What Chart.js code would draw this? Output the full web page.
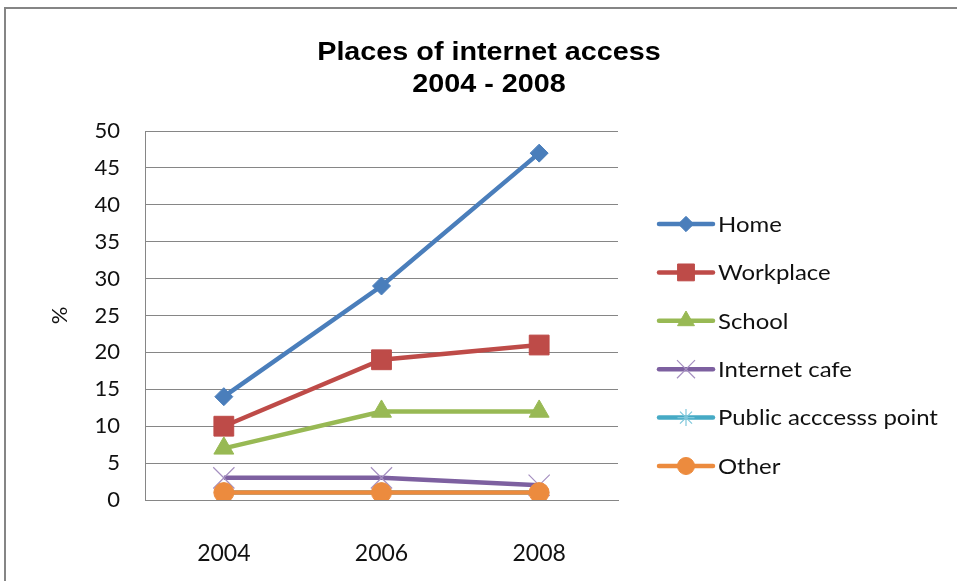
<!DOCTYPE html>
<html>
<head>
<meta charset="utf-8">
<script src="https://cdn.jsdelivr.net/npm/chart.js@4.4.1/dist/chart.umd.min.js"></script>
<style>
  html,body{margin:0;padding:0;background:#fff;overflow:hidden;}
  #frame{position:absolute;left:4px;top:7px;width:1200px;height:900px;border-left:2px solid #858585;border-top:2px solid #858585;}
  #chart{position:absolute;left:0;top:0;}
</style>
</head>
<body>
<div id="frame"></div>
<canvas id="chart" width="957" height="581"></canvas>
<script>
// survey years and share of users (%) by place of access
const years=["2004","2006","2008"];
const home=[14,29,47];
const workplace=[10,19,21];
const school=[7,12,12];
const internetCafe=[3,3,2];
const publicPoint=[1,1,1];
const other=[1,1,1];
const seriesNames=["Home","Workplace","School","Internet cafe","Public acccesss point","Other"];
const titleLines=["Places of internet access","2004 - 2008"];

const colors=["#4A7EBB","#BE4B48","#98B954","#7D60A0","#46AAC5","#EC8B3E"];
const styles=[
  {pointStyle:"rectRot",radius:9,bw:1},
  {pointStyle:"rect",radius:14,bw:1},
  {pointStyle:"triangle",radius:11.5,bw:1},
  {pointStyle:"crossRot",radius:15,bw:1.2},
  {pointStyle:"star",radius:10,bw:1.2},
  {pointStyle:"circle",radius:10,bw:1}
];
const values=[home,workplace,school,internetCafe,publicPoint,other];

const textFont='Lato, "Open Sans", sans-serif';

const datasets=values.map((v,i)=>({
  label:seriesNames[i],
  data:v,
  borderColor:colors[i],
  backgroundColor:colors[i],
  borderWidth:4.5,
  tension:0,
  pointStyle:styles[i].pointStyle,
  pointRadius:styles[i].radius,
  pointBorderWidth:styles[i].bw,
  pointBorderColor:i==3?"#A58FC0":i==4?"#7FC7DB":colors[i],
  pointBackgroundColor:colors[i],
  // later series sit on top, as in the spreadsheet
  order:values.length-i
}));

// two-line bold heading, slightly widened
const titlePlugin={
  id:"heading",
  afterDraw(chart){
    const ctx=chart.ctx;
    ctx.save();
    ctx.fillStyle="#000";
    ctx.font='bold 25px "Liberation Sans", Arial, sans-serif';
    ctx.textAlign="center";
    ctx.textBaseline="alphabetic";
    titleLines.forEach((t,i)=>{
      ctx.save();
      ctx.translate(489,60+i*32);
      ctx.scale(1.15,1);
      ctx.fillText(t,0,0);
      ctx.restore();
    });
    ctx.restore();
  }
};

// legend on the right: short line with the series marker in the middle
const legendPlugin={
  id:"sideLegend",
  afterDraw(chart){
    const ctx=chart.ctx;
    ctx.save();
    seriesNames.forEach((name,i)=>{
      const y=224+i*48.4;
      ctx.strokeStyle=colors[i];
      ctx.lineWidth=4.5;
      ctx.lineCap="round";
      ctx.beginPath();
      ctx.moveTo(659,y);
      ctx.lineTo(713,y);
      ctx.stroke();
      ctx.lineCap="butt";
      ctx.fillStyle=colors[i];
      ctx.strokeStyle=datasets[i].pointBorderColor;
      ctx.lineWidth=styles[i].bw;
      Chart.helpers.drawPoint(ctx,{pointStyle:styles[i].pointStyle,radius:styles[i].radius*0.85,borderWidth:styles[i].bw,rotation:0},686,y);
      ctx.save();
      ctx.translate(718,y+1);
      ctx.scale(1.14,1);
      ctx.fillStyle="#111";
      ctx.font="21px "+textFont;
      ctx.textAlign="left";
      ctx.textBaseline="middle";
      ctx.fillText(name,0,0);
      ctx.restore();
    });
    ctx.restore();
  }
};

new Chart(document.getElementById("chart"),{
  type:"line",
  data:{labels:years,datasets:datasets},
  options:{
    responsive:false,
    animation:false,
    layout:{padding:{top:131,right:339,bottom:0,left:0}},
    plugins:{legend:{display:false},title:{display:false},tooltip:{enabled:false}},
    scales:{
      x:{
        offset:true,
        grid:{display:false},
        border:{display:true,color:"#868686",width:1},
        ticks:{color:"#111",font:{family:textFont,size:23},padding:32},
        afterFit(s){s.height=81;}
      },
      y:{
        min:0,max:50,
        ticks:{stepSize:5,color:"#111",font:{family:textFont,size:22},padding:25},
        grid:{color:"#868686",lineWidth:1,drawTicks:false},
        border:{display:true,color:"#868686",width:1},
        title:{display:true,text:"%",color:"#111",font:{family:textFont,size:22},padding:{top:47,bottom:0}},
        afterFit(s){s.width=145;}
      }
    }
  },
  plugins:[titlePlugin,legendPlugin]
});
</script>
</body>
</html>
